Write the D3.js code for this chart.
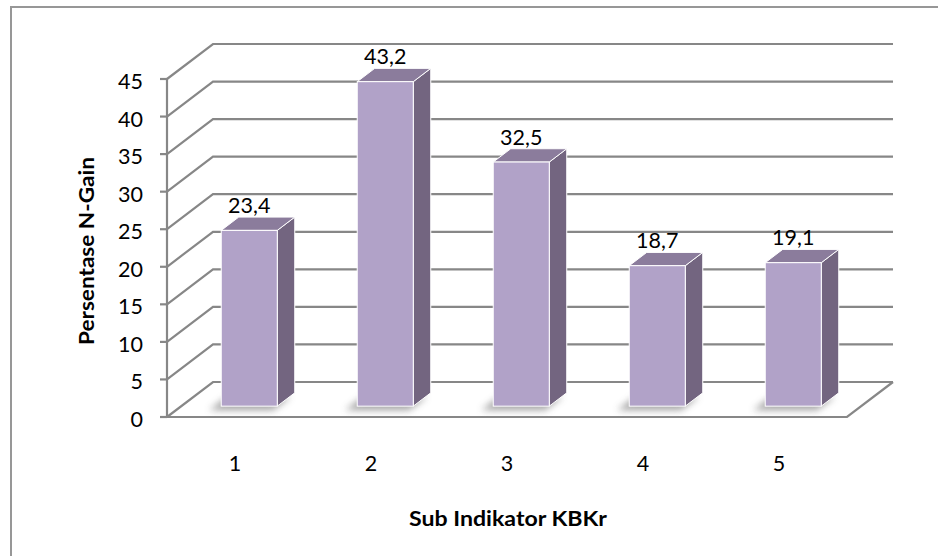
<!DOCTYPE html>
<html>
<head>
<meta charset="utf-8">
<script src="https://cdn.jsdelivr.net/npm/d3@7"></script>
<style>
  html, body { margin: 0; padding: 0; background: #fff; }
  svg { display: block; }
  text { font-family: Lato, "Open Sans", sans-serif; fill: #000; }
</style>
</head>
<body>
<svg id="chart" width="938" height="556"></svg>
<script>
// Data
const categories = ["1", "2", "3", "4", "5"];
const values = [23.4, 43.2, 32.5, 18.7, 19.1];
const valueLabels = ["23,4", "43,2", "32,5", "18,7", "19,1"];
const yTicks = [0, 5, 10, 15, 20, 25, 30, 35, 40, 45];
const xTitle = "Sub Indikator KBKr";
const yTitle = "Persentase N-Gain";

const svg = d3.select("#chart");
const W = 938, H = 556;

// Plot frame (front plane) and depth offset of the back wall
const plot = { left: 167, right: 847, bottom: 417, top: 79 };
const depth = { dx: 46, dy: -35 };
const barDepth = { front: 0.31, back: 0.69 };
const numSize = 21.5;

const x = d3.scaleBand()
  .domain(categories)
  .range([plot.left, plot.right])
  .paddingInner(0.588)
  .paddingOuter(0.294);

const y = d3.scaleLinear()
  .domain([0, 45])
  .range([plot.bottom, plot.top]);

// Outer chart border
svg.append("rect")
  .attr("x", 11).attr("y", 7)
  .attr("width", W).attr("height", H)
  .attr("fill", "none")
  .attr("stroke", "#979797")
  .attr("stroke-width", 2);

const grid = svg.append("g").attr("stroke", "#878787").attr("stroke-width", 2.2).attr("fill", "none");

// Floor: front and right edges
grid.append("path")
  .attr("d", `M${plot.left},${y(0)} L${plot.right},${y(0)} L${plot.right + depth.dx},${y(0) + depth.dy}`);

// Gridlines: side-wall diagonal plus back-wall horizontal
grid.selectAll("path.gl")
  .data(yTicks)
  .join("path")
  .attr("class", "gl")
  .attr("d", v => `M${plot.left},${y(v)} L${plot.left + depth.dx},${y(v) + depth.dy} L${plot.right + depth.dx},${y(v) + depth.dy}`);

// Vertical axis and tick marks
grid.append("line")
  .attr("x1", plot.left).attr("x2", plot.left)
  .attr("y1", y(45)).attr("y2", y(0));
grid.selectAll("line.tick")
  .data(yTicks)
  .join("line")
  .attr("class", "tick")
  .attr("x1", plot.left - 7).attr("x2", plot.left)
  .attr("y1", v => y(v)).attr("y2", v => y(v));

// Y tick labels
svg.append("g")
  .selectAll("text")
  .data(yTicks)
  .join("text")
  .attr("x", 143)
  .attr("y", v => y(v) + 2)
  .attr("text-anchor", "end")
  .attr("dominant-baseline", "central")
  .attr("font-size", numSize)
  .text(v => v);

// Soft shadow filter for the bars
const defs = svg.append("defs");
defs.append("filter").attr("id", "shadow")
  .attr("x", "-50%").attr("y", "-50%").attr("width", "200%").attr("height", "200%")
  .append("feGaussianBlur").attr("stdDeviation", 3.5);

const bars = svg.append("g");
const data = categories.map((c, i) => ({ c, v: values[i], label: valueLabels[i] }));

data.forEach(d => {
  const fx = x(d.c) + barDepth.front * depth.dx;
  const fyOff = barDepth.front * depth.dy;
  const bw = x.bandwidth();
  const ddx = (barDepth.back - barDepth.front) * depth.dx;
  const ddy = (barDepth.back - barDepth.front) * depth.dy;
  const yb = y(0) + fyOff;
  const yt = y(d.v) + fyOff;

  // shadow on the floor
  bars.append("path")
    .attr("d", `M${fx - 12},${yb + 4} L${fx + bw - 4},${yb + 4} L${fx + bw + ddx - 4},${yb + ddy + 4} L${fx + ddx - 12},${yb + ddy + 4} Z`)
    .attr("fill", "#8a8a8a")
    .attr("opacity", 0.75)
    .attr("filter", "url(#shadow)");

  // side face
  bars.append("path")
    .attr("d", `M${fx + bw},${yb} L${fx + bw + ddx},${yb + ddy} L${fx + bw + ddx},${yt + ddy} L${fx + bw},${yt} Z`)
    .attr("fill", "#736580")
    .attr("stroke", "#fff").attr("stroke-width", 1).attr("stroke-linejoin", "round");
  // top face
  bars.append("path")
    .attr("d", `M${fx},${yt} L${fx + ddx},${yt + ddy} L${fx + bw + ddx},${yt + ddy} L${fx + bw},${yt} Z`)
    .attr("fill", "#8b7c9c")
    .attr("stroke", "#fff").attr("stroke-width", 1).attr("stroke-linejoin", "round");
  // front face
  bars.append("rect")
    .attr("x", fx).attr("y", yt)
    .attr("width", bw).attr("height", yb - yt)
    .attr("fill", "#b1a2c8")
    .attr("stroke", "#fff").attr("stroke-width", 1);

  // value label
  bars.append("text")
    .attr("x", fx + bw / 2)
    .attr("y", yt + ddy - 4)
    .attr("text-anchor", "middle")
    .attr("font-size", numSize)
    .text(d.label);
});

// Category labels
svg.append("g")
  .selectAll("text")
  .data(categories)
  .join("text")
  .attr("x", c => x(c) + x.bandwidth() / 2)
  .attr("y", 463)
  .attr("text-anchor", "middle")
  .attr("dominant-baseline", "central")
  .attr("font-size", numSize)
  .text(c => c);

// Axis titles
svg.append("text")
  .attr("x", 508).attr("y", 517)
  .attr("text-anchor", "middle")
  .attr("dominant-baseline", "central")
  .attr("font-size", 21)
  .attr("font-weight", "bold")
  .attr("textLength", 198)
  .attr("lengthAdjust", "spacingAndGlyphs")
  .text(xTitle);

svg.append("text")
  .attr("transform", "translate(85,251) rotate(-90)")
  .attr("text-anchor", "middle")
  .attr("dominant-baseline", "central")
  .attr("font-size", 21)
  .attr("font-weight", "bold")
  .attr("textLength", 188)
  .attr("lengthAdjust", "spacingAndGlyphs")
  .text(yTitle);
</script>
</body>
</html>
